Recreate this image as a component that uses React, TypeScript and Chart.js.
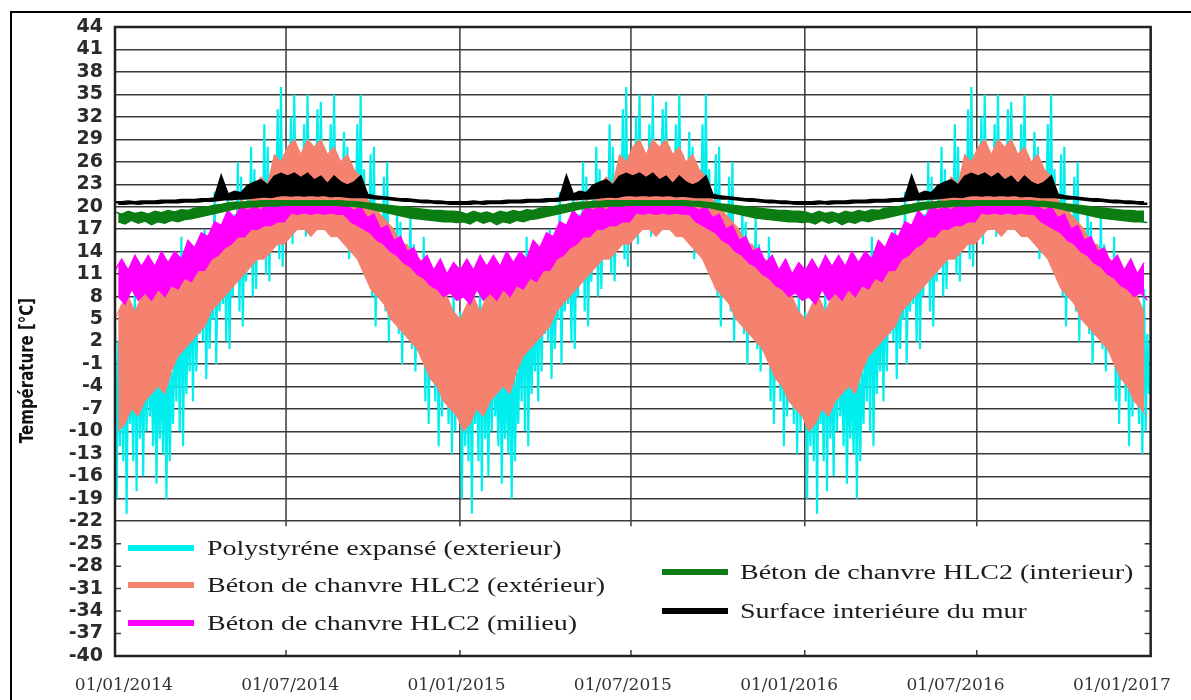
import React, { useEffect, useRef } from 'react';
import { Chart, registerables } from 'chart.js';

Chart.register(...registerables);

// ---------- axes ----------
const yTickValues = [-40, -37, -34, -31, -28, -25, -22, -19, -16, -13, -10, -7, -4, -1, 2, 5, 8, 11, 14, 17, 20, 23, 26, 29, 32, 35, 38, 41, 44];
const xGridDays = [0, 181, 365, 546, 730, 912, 1096]; // days since 01/01/2014
const xTickLabels = ['01/01/2014', '01/07/2014', '01/01/2015', '01/07/2015', '01/01/2016', '01/07/2016', '01/01/2017'];
const yTitleText = 'Température [°C]';
const legendTopValue = -22;

const seriesNames = [
  'Polystyréne expansé (exterieur)',
  'Béton de chanvre HLC2 (extérieur)',
  'Béton de chanvre HLC2 (milieu)',
  'Béton de chanvre HLC2 (interieur)',
  'Surface interiéure du mur',
];
const seriesColors = ['#00eeee', '#f4826f', '#ff00ff', '#0b7d12', '#000000'];

// ---------- values (°C) read for one year; the figure shows the same annual cycle in 2014, 2015 and 2016 ----------
// polystyrene: half-week maxima / minima
const polyHiYear = [
  6, 2, 3, 8, 4, -1, 10, 5, 1, 5,
  3, -2, 4, 0, -1, 2, 3, -2, 5, 9,
  16, 8, 6, 10, 14, 9, 11, 17, 13, 9,
  22, 14, 12, 18, 21, 15, 19, 26, 24, 17,
  21, 28, 25, 19, 23, 31, 28, 22, 26, 33,
  36, 27, 28, 32, 35, 27, 26, 31, 35, 28,
  27, 33, 34, 28, 25, 31, 35, 27, 24, 30,
  28, 23, 24, 31, 35, 25, 20, 27, 28, 18,
  17, 24, 26, 16, 14, 20, 18, 12, 13, 19,
  15, 9, 10, 16, 12, 6, 5, 10, 12, 4,
  1, 6, 9, 3,
];
const polyLoYear = [
  -19, -12, -14, -21, -9, -14, -18, -11, -16, -10,
  -8, -12, -17, -11, -13, -19, -14, -9, -6, -10,
  -12, -5, -2, -6, -2, 3, 2, -3, 1, 5,
  -1, 6, 7, 2, 1, 8, 11, 6, 4, 10,
  13, 8, 9, 14, 16, 11, 10, 15, 18, 13,
  12, 17, 19, 15, 19, 22, 21, 16, 18, 22,
  22, 17, 19, 23, 21, 16, 17, 21, 20, 15,
  13, 18, 18, 14, 12, 17, 13, 8, 4, 10,
  11, 6, 2, 8, 7, 3, -1, 5, 5, 1,
  -2, 3, 0, -6, -9, -3, -6, -12, -8, -4,
  -9, -13, -10, -5,
];

// weekly maxima / minima
const extHiYear = [5, 7, 8, 6, 8, 10, 9, 10, 9, 11, 12, 11, 13, 14, 16, 15, 17, 19, 18, 21, 20, 23, 24, 23, 27, 26, 28, 29, 27, 29, 28, 29, 27, 28, 26, 27, 25, 24, 21, 20, 19, 18, 17, 15, 15, 13, 13, 12, 10, 9, 8, 6];
const extLoYear = [-10, -9, -7, -8, -6, -5, -4, -5, -2, 0, 1, 2, 3, 4, 6, 7, 8, 9, 10, 11, 12, 13, 13, 14, 15, 15, 16, 17, 17, 16, 17, 17, 16, 16, 15, 14, 13, 11, 9, 8, 7, 5, 4, 3, 2, 1, -1, -3, -4, -6, -7, -8];

const midHiYear = [11.5, 13, 11.5, 13.5, 12, 13.5, 12, 14, 12.5, 14, 13, 15.5, 14.5, 16.5, 16, 18, 17.5, 19.5, 18.5, 20, 19.5, 20, 19.5, 20.5, 20, 20.5, 20.5, 20.5, 20.5, 20.5, 20.5, 20.5, 20.5, 20.5, 20.5, 20, 19.5, 20, 18.5, 19, 17, 17.5, 15.5, 16, 14, 14.5, 12.5, 13.5, 11.5, 13, 11, 12.5];
const midLoYear = [8, 7, 9, 7.5, 8.5, 7.5, 9, 8, 9.5, 9, 10.5, 10, 11.5, 11.5, 13, 13.5, 14.5, 15, 16, 16, 17, 17, 17.5, 17.5, 18, 18, 19.2, 19, 19.2, 19, 19.2, 19, 19.2, 19, 19, 18, 17.5, 17, 16.5, 15.5, 15, 14, 13.5, 12.5, 12, 11, 10.5, 9.5, 9, 8, 8.5, 7.5];

const intHiYear = [19.3, 19, 19.4, 19.1, 19.3, 19, 19.4, 19.2, 19.5, 19.3, 19.6, 19.5, 19.8, 19.9, 20, 20.2, 20.3, 20.5, 20.6, 20.6, 20.7, 20.7, 20.8, 20.8, 20.8, 20.8, 20.8, 20.8, 20.8, 20.8, 20.8, 20.8, 20.8, 20.8, 20.8, 20.7, 20.7, 20.6, 20.5, 20.4, 20.3, 20.2, 20.1, 20, 19.9, 19.8, 19.7, 19.6, 19.5, 19.5, 19.4, 19.4];
const intLoYear = [18, 17.7, 18.2, 17.8, 18.1, 17.6, 18, 17.8, 18.2, 18, 18.3, 18.4, 18.6, 18.8, 19, 19.2, 19.4, 19.6, 19.8, 19.9, 20, 20, 20.1, 20.1, 20.1, 20.2, 20.2, 20.2, 20.2, 20.2, 20.2, 20.2, 20.2, 20.2, 20.1, 20.1, 20, 19.9, 19.7, 19.5, 19.3, 19.1, 18.9, 18.7, 18.5, 18.4, 18.3, 18.2, 18.1, 18, 18, 17.9];

const surfHiYear = [20.6, 20.6, 20.7, 20.6, 20.7, 20.7, 20.7, 20.8, 20.8, 20.8, 20.9, 20.9, 20.9, 21, 21, 21.1, 24, 21.6, 22, 21.8, 22.8, 23.2, 23.5, 22.8, 24, 24.4, 24, 24.4, 23.8, 24.4, 23.5, 24, 23, 24, 23.2, 22.8, 23.2, 24, 21.6, 21.4, 21.3, 21.2, 21.1, 21, 21, 20.9, 20.8, 20.8, 20.7, 20.7, 20.6, 20.6];
const surfLoYear = [20.4, 20.4, 20.5, 20.4, 20.5, 20.5, 20.5, 20.6, 20.6, 20.6, 20.7, 20.7, 20.7, 20.8, 20.8, 20.9, 21, 21, 21.1, 21.1, 21.2, 21.3, 21.4, 21.3, 21.5, 21.6, 21.5, 21.6, 21.5, 21.6, 21.5, 21.6, 21.4, 21.5, 21.4, 21.3, 21.3, 21.3, 21.2, 21.1, 21.1, 21, 20.9, 20.8, 20.8, 20.7, 20.6, 20.6, 20.5, 20.5, 20.4, 20.4];

const threeYears = (a: number[]) => [...a, ...a, ...a];
const polyHi = threeYears(polyHiYear);
const polyLo = threeYears(polyLoYear);
const extHi = threeYears(extHiYear);
const extLo = threeYears(extLoYear);
const midHi = threeYears(midHiYear);
const midLo = threeYears(midLoYear);
const intHi = threeYears(intHiYear);
const intLo = threeYears(intLoYear);
const surfHi = threeYears(surfHiYear);
const surfLo = threeYears(surfLoYear);

const TOTAL_DAYS = 1096;

// max then min of each sampling period, in time order
function maxMinPoints(hi: number[], lo: number[]) {
  const step = TOTAL_DAYS / hi.length;
  const pts: { x: number; y: number }[] = [];
  hi.forEach((h, i) => {
    pts.push({ x: i * step, y: h });
    pts.push({ x: (i + 0.5) * step, y: lo[i] });
  });
  return pts;
}
function periodPoints(vals: number[], offset: number) {
  const step = TOTAL_DAYS / vals.length;
  return vals.map((v, i) => ({ x: (i + offset) * step, y: v }));
}

const GRID = '#3a3a3a';

const frameAndLegendArea = {
  id: 'frameAndLegendArea',
  beforeDatasetsDraw(chart: any) {
    const { ctx, chartArea: a, scales } = chart;
    const y = scales.y;
    const x = scales.x;
    const yCut = y.getPixelForValue(legendTopValue);
    ctx.save();
    ctx.strokeStyle = GRID;
    ctx.lineWidth = 1.5;
    ctx.beginPath();
    xGridDays.forEach((d) => {
      const px = x.getPixelForValue(d);
      ctx.moveTo(px, a.top);
      ctx.lineTo(px, yCut);
    });
    ctx.stroke();
    ctx.fillStyle = '#ffffff';
    ctx.fillRect(a.left, yCut + 1, a.right - a.left, a.bottom - yCut - 1);
    ctx.beginPath();
    yTickValues.forEach((v) => {
      if (v < legendTopValue && v > yTickValues[0]) {
        const py = y.getPixelForValue(v);
        ctx.moveTo(a.left, py);
        ctx.lineTo(a.left + 6, py);
        ctx.moveTo(a.right, py);
        ctx.lineTo(a.right - 6, py);
      }
    });
    xGridDays.forEach((d) => {
      const px = x.getPixelForValue(d);
      ctx.moveTo(px, a.bottom);
      ctx.lineTo(px, a.bottom - 6);
      ctx.moveTo(px, yCut);
      ctx.lineTo(px, yCut + 5);
    });
    ctx.stroke();
    ctx.restore();
  },
  afterDatasetsDraw(chart: any) {
    const { ctx, chartArea: a } = chart;
    ctx.save();
    ctx.strokeStyle = '#222';
    ctx.lineWidth = 2.5;
    ctx.strokeRect(a.left, a.top, a.right - a.left, a.bottom - a.top);
    ctx.restore();
  },
  afterDraw(chart: any) {
    const { ctx, chartArea: a } = chart;
    ctx.save();
    ctx.translate(28, (a.top + a.bottom) / 2 + 29);
    ctx.rotate(-Math.PI / 2);
    ctx.scale(1, 1.3);
    ctx.font = 'bold 15px "DejaVu Sans"';
    ctx.fillStyle = '#111';
    ctx.textAlign = 'center';
    ctx.textBaseline = 'middle';
    ctx.fillText(yTitleText, 0, 0);
    ctx.restore();
  },
};

const legendLeft = [
  { name: seriesNames[0], color: seriesColors[0], cy: 548 },
  { name: seriesNames[1], color: seriesColors[1], cy: 585 },
  { name: seriesNames[2], color: seriesColors[2], cy: 623 },
];
const legendRight = [
  { name: seriesNames[3], color: seriesColors[3], cy: 572 },
  { name: seriesNames[4], color: seriesColors[4], cy: 611 },
];

export default function App() {
  const canvasRef = useRef<HTMLCanvasElement | null>(null);

  useEffect(() => {
    const canvas = canvasRef.current;
    if (!canvas) return;
    const common = { pointRadius: 0, tension: 0, xAxisID: 'x', yAxisID: 'y' };
    const band = (label: string, color: string, hi: number[], lo: number[], width: number) => [
      { ...common, label, data: periodPoints(hi, 0), borderColor: color, backgroundColor: color, borderWidth: width, fill: '+1' },
      { ...common, label: label + ' (min)', data: periodPoints(lo, 0.5), borderColor: color, borderWidth: width, fill: false },
    ];
    const chart = new Chart(canvas, {
      type: 'line',
      data: {
        datasets: [
          ...band(seriesNames[4], seriesColors[4], surfHi, surfLo, 2.5),
          ...band(seriesNames[3], seriesColors[3], intHi, intLo, 1.5),
          ...band(seriesNames[2], seriesColors[2], midHi, midLo, 1.5),
          ...band(seriesNames[1], seriesColors[1], extHi, extLo, 1),
          { ...common, label: seriesNames[0], data: maxMinPoints(polyHi, polyLo), borderColor: seriesColors[0], borderWidth: 2.2, fill: false },
        ],
      },
      options: {
        animation: false,
        responsive: false,
        devicePixelRatio: 1,
        layout: { padding: { top: 27, right: 25, bottom: 0, left: 0 } },
        plugins: { legend: { display: false }, tooltip: { enabled: false } },
        scales: {
          x: {
            type: 'linear',
            display: false,
            min: 0,
            max: TOTAL_DAYS,
          },
          xl: {
            type: 'linear',
            position: 'bottom',
            min: -0.053,
            max: 6.173,
            afterBuildTicks: (s: any) => {
              s.ticks = xTickLabels.map((_, i) => ({ value: i }));
            },
            afterFit: (s: any) => {
              s.height = 44;
            },
            ticks: {
              autoSkip: false,
              maxRotation: 0,
              padding: 19,
              color: '#333',
              font: { family: 'DejaVu Serif', size: 17 },
              callback: (_v: any, i: number) => xTickLabels[i],
            },
            grid: { display: false, drawTicks: false },
            border: { display: false },
          },
          y: {
            type: 'linear',
            min: yTickValues[0],
            max: yTickValues[yTickValues.length - 1],
            afterBuildTicks: (s: any) => {
              s.ticks = yTickValues.map((v) => ({ value: v }));
            },
            afterFit: (s: any) => {
              s.width = 115;
            },
            ticks: {
              autoSkip: false,
              padding: 12,
              color: '#2b2b2b',
              font: { family: 'DejaVu Sans', weight: 'bold', size: 19 },
            },
            grid: { color: GRID, lineWidth: 1.5, drawTicks: false },
            border: { display: false },
          },
        },
      },
      plugins: [frameAndLegendArea],
    } as any);
    return () => chart.destroy();
  }, []);

  const textStyle: React.CSSProperties = {
    position: 'absolute',
    fontFamily: '"Liberation Serif", "Times New Roman", serif',
    fontSize: 20,
    lineHeight: '22px',
    color: '#1c1c1c',
    whiteSpace: 'nowrap',
    transform: 'scaleX(1.4)',
    transformOrigin: 'left center',
  };

  return (
    <div style={{ position: 'fixed', left: 0, top: 0, width: 1191, height: 700, background: '#fff', overflow: 'hidden' }}>
      <canvas ref={canvasRef} width={1191} height={700} style={{ display: 'block', width: 1191, height: 700 }} />
      <div style={{ position: 'absolute', left: 10, top: 11, width: 1300, height: 800, borderTop: '2px solid #000', borderLeft: '2px solid #000', pointerEvents: 'none' }} />
      {legendLeft.map((it) => (
        <React.Fragment key={it.name}>
          <div style={{ position: 'absolute', left: 128, top: it.cy - 3, width: 66, height: 6, background: it.color }} />
          <div style={{ ...textStyle, left: 207, top: it.cy - 11 }}>{it.name}</div>
        </React.Fragment>
      ))}
      {legendRight.map((it) => (
        <React.Fragment key={it.name}>
          <div style={{ position: 'absolute', left: 662, top: it.cy - 3, width: 66, height: 6, background: it.color }} />
          <div style={{ ...textStyle, left: 740, top: it.cy - 11 }}>{it.name}</div>
        </React.Fragment>
      ))}
    </div>
  );
}
